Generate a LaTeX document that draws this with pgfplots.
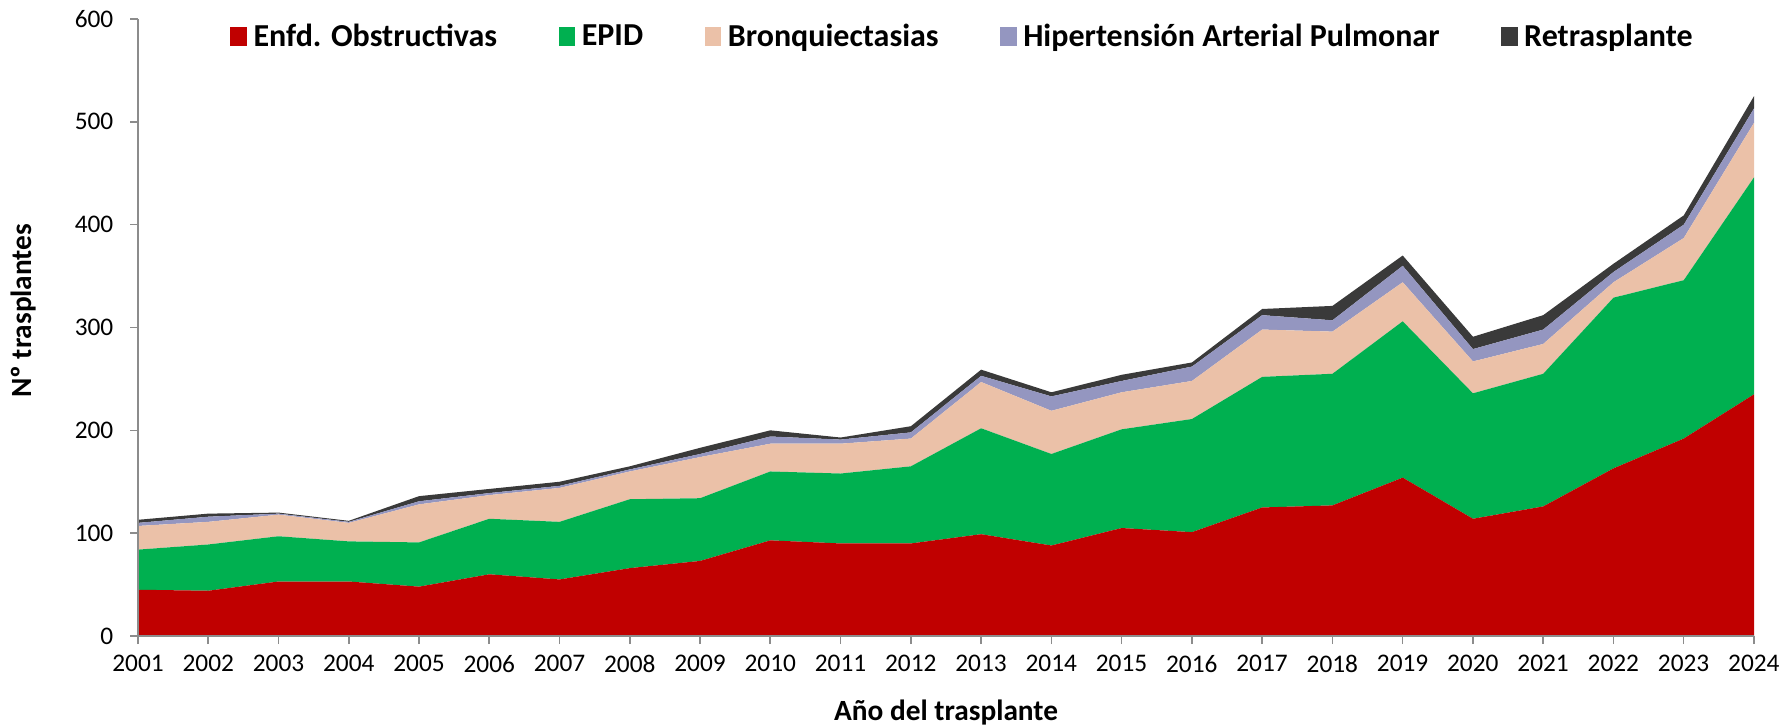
\documentclass[border=0pt]{standalone}
\usepackage{pgfplots}
\pgfplotsset{compat=1.18}
\usepackage{pgfplotstable}
\usepackage{fontspec}
\setmainfont{Carlito}
\definecolor{obsred}{HTML}{C00000}
\definecolor{epidgreen}{HTML}{00B050}
\definecolor{bronq}{HTML}{EBC1A8}
\definecolor{hapblue}{HTML}{9496C0}
\definecolor{retras}{HTML}{3A3A3A}
\definecolor{axgray}{HTML}{8C8C8C}

% year, Enfd. Obstructivas, EPID, Bronquiectasias, HAP, Retrasplante
\pgfplotstableread{
year obs epid bronq hap retr
2001 45 39 23 3 3
2002 44 45 22 5 3
2003 53 44 21 1 1
2004 53 39 18 1 1
2005 48 43 37 3 5
2006 60 54 23 2 4
2007 55 56 33 2 4
2008 66 67 27 2 3
2009 73 61 40 3 6
2010 93 67 27 7 6
2011 90 68 29 4 2
2012 90 75 27 6 6
2013 99 103 45 6 6
2014 88 89 42 14 4
2015 105 96 36 11 6
2016 101 110 37 14 4
2017 125 127 46 14 6
2018 127 128 41 11 14
2019 154 152 38 16 10
2020 114 122 31 12 12
2021 126 129 29 14 14
2022 163 166 15 10 8
2023 192 154 41 13 9
2024 235 211 53 14 12
}\datatable

\begin{document}
\begin{tikzpicture}
\begin{axis}[
    name=ax,
    scale only axis,
    width=1212pt, height=462.75pt,
    xmin=2001, xmax=2024,
    ymin=0, ymax=600,
    xtick={2001,...,2024},
    ytick={0,100,...,600},
    axis lines=left,
    axis line style={-, draw=axgray, line width=1.2pt},
    tick style={draw=axgray, line width=1.2pt},
    tick align=outside,
    major tick length=6pt,
    x tick label style={/pgf/number format/1000 sep={}},
    /pgf/number format/assume math mode=true,
    tick label style={font=\fontsize{19}{22}\selectfont},
    yticklabel style={xshift=-9pt},
    xticklabel style={yshift=-5pt},
    stack plots=y,
    area style,
    xlabel={\bfseries Año del trasplante},
    ylabel={\bfseries Nº trasplantes},
    label style={font=\fontsize{22}{26}\selectfont},
    xlabel style={at={([yshift=-57.5pt]rel axis cs:0.5,0)}, anchor=center},
    ylabel style={at={([xshift=-86pt]rel axis cs:0,0.527)}, anchor=center},
    legend columns=5,
    legend style={draw=none, fill=none, at={([xshift=69pt,yshift=-13pt]rel axis cs:0,1)}, anchor=west,
        font=\bfseries\fontsize{24}{28}\selectfont,
        /tikz/every even column/.append style={column sep=44pt},
        /tikz/every odd column/.append style={column sep=3pt},
        inner sep=0pt, cells={anchor=west}},
    legend image code/.code={\fill[#1] (0pt,-7.5pt) rectangle (12.5pt,7pt);},
]
\addplot[fill=obsred, draw=none] table[x=year, y=obs] {\datatable} \closedcycle;
\addplot[fill=epidgreen, draw=none] table[x=year, y=epid] {\datatable} \closedcycle;
\addplot[fill=bronq, draw=none] table[x=year, y=bronq] {\datatable} \closedcycle;
\addplot[fill=hapblue, draw=none] table[x=year, y=hap] {\datatable} \closedcycle;
\addplot[fill=retras, draw=none] table[x=year, y=retr] {\datatable} \closedcycle;
\legend{Enfd. Obstructivas, EPID, Bronquiectasias, Hipertensión Arterial Pulmonar, Retrasplante}
\end{axis}
\pgfresetboundingbox
\path[use as bounding box] ([xshift=-103.5pt,yshift=-68.25pt]ax.south west) rectangle ([xshift=26.25pt,yshift=14.25pt]ax.north east);
\end{tikzpicture}
\end{document}
